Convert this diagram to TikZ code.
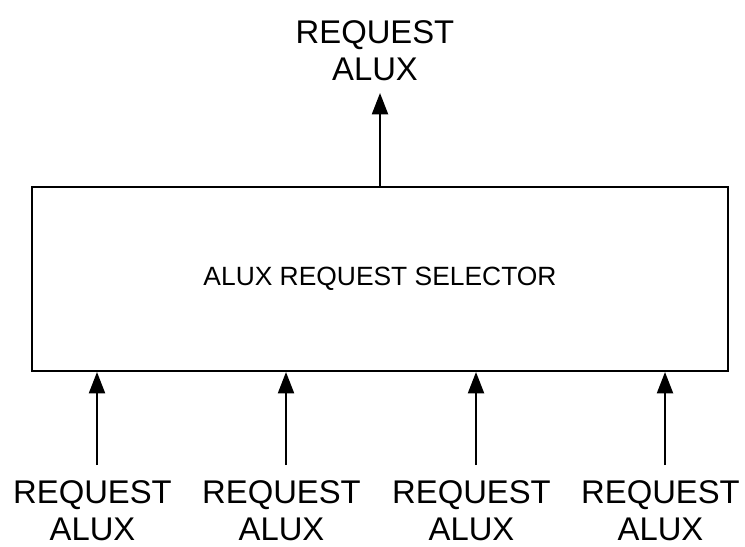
\documentclass[tikz,border=0pt]{standalone}
\usepackage{fontspec}
\setmainfont{Liberation Sans}
\usetikzlibrary{arrows.meta}
\begin{document}
\begin{tikzpicture}[x=0.75pt,y=-0.75pt,
  arr/.style={line width=1.5pt,-{Triangle[length=16pt,width=12pt]}},
  lbl/.style={align=center,inner sep=0pt,anchor=north,font=\fontsize{24.6pt}{28pt}\selectfont},
  selbox/.style={draw,line width=1.5pt,minimum width=522pt,minimum height=138pt,inner sep=0pt,font=\fontsize{19.8pt}{24pt}\selectfont}]
\useasboundingbox (0,0) rectangle (745,546);
\node[selbox] (box) at (380,279) {ALUX REQUEST SELECTOR};
\node[lbl] (top) at (375,20) {REQUEST\\ALUX};
\coordinate (tipTop) at (380,93);
\draw[arr] (box.north -| tipTop) -- (tipTop);
\foreach \x/\n in {97/a,286/b,476/c,665/d}{
  \node[lbl] (l\n) at (\x-4.5,480) {REQUEST\\ALUX};
  \coordinate (s\n) at (\x,465);
  \draw[arr] (s\n) -- (s\n |- box.south);
}
\end{tikzpicture}
\end{document}
